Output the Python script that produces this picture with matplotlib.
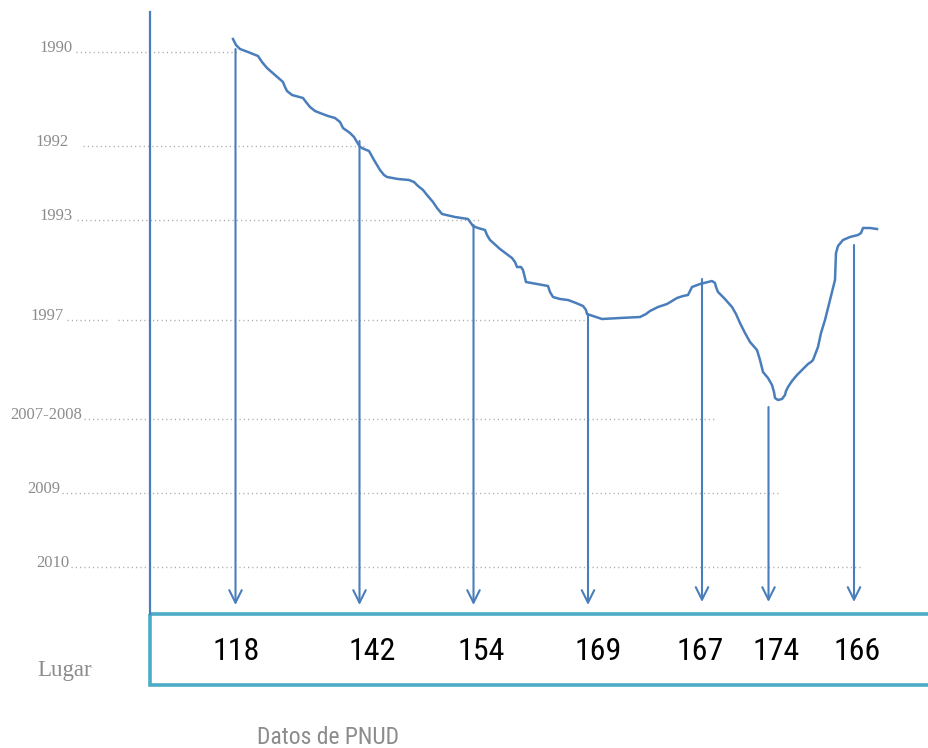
import matplotlib.pyplot as plt
from matplotlib.patches import Rectangle

# DATA #
years = ["1990", "1992", "1993", "1997", "2007-2008", "2009", "2010"]
ranks = [118, 142, 154, 169, 167, 174, 166]
row_label = "Lugar"
source = "Datos de PNUD"

# hand drawn trend curve (drawing units, y grows downward)
curve_x = [233, 236, 240, 248, 258, 262, 267, 275, 283, 285, 287, 292, 303, 306, 310,
           315, 320, 328, 335, 340, 343, 350, 354, 357, 360, 364, 369, 374, 380, 384,
           387, 398, 409, 414, 418, 423, 427, 433, 437, 442, 455, 468, 473, 478, 485,
           487, 490, 500, 512, 515, 517, 521, 523, 526, 537, 548, 550, 553, 560, 568,
           576, 583, 586, 587, 593, 602, 620, 640, 646, 650, 658, 667, 672, 677, 683,
           688, 690, 692, 700, 708, 712, 715, 716, 718, 724, 732, 736, 740, 745, 750,
           757, 760, 763, 768, 772, 774, 775, 778, 782, 785, 786, 788, 792, 797, 803,
           808, 811, 813, 818, 821, 825, 829, 833, 835, 835.5, 836, 838, 843, 850, 858,
           861, 863, 870, 877]
curve_y = [39, 45, 49, 52, 56, 62, 68, 75, 82, 87, 91, 95, 98, 102, 107,
           111, 113, 116, 118, 122, 128, 133, 137, 142, 147, 149, 151, 160, 170, 175,
           177, 179, 180, 182, 186, 190, 195, 202, 208, 214, 217, 219, 226, 228, 230,
           235, 240, 249, 258, 262, 267, 267, 270, 282, 284, 286, 292, 297, 299, 300,
           303, 306, 310, 314, 316, 319, 318, 317, 314, 311, 307, 304, 301, 298, 296,
           295, 291, 287, 284, 282, 281, 283, 287, 292, 298, 307, 314, 323, 333, 342,
           350, 360, 372, 378, 385, 392, 398, 400, 399, 395, 391, 387, 381, 375, 369,
           364, 362, 360, 347, 333, 320, 304, 288, 280, 266, 253, 246, 240, 237, 235,
           233, 228, 228, 229]

# LAYOUT #
year_y = [52, 146, 220, 320, 419, 493, 567]
year_text_end = [73, 69, 73, 64, 82, 60, 69]
dot_start = [76, 83, 77, 118, 84, 62, 71]
dot_end = [240, 366, 481, 591, 717, 778, 861]
arrow_x = [235.5, 359.5, 473.5, 588, 702, 768.5, 854]
arrow_top = [49, 141, 225, 314, 279, 407, 245]
arrow_tip = [605, 605, 605, 605, 602, 602, 602]
rank_x = [236, 372, 481, 598, 700, 776, 857]

blue = "#4A7EBB"
teal = "#4BACC6"
grey = "#8C8C8C"

fig = plt.figure(figsize=(9.29, 7.48), dpi=100)
ax = fig.add_axes([0, 0, 1, 1])
ax.set_xlim(0, 929)
ax.set_ylim(748, 0)
ax.axis("off")

# year guides
for yr, y, xe, xs, xd in zip(years, year_y, year_text_end, dot_start, dot_end):
    ax.text(xe, y, yr, ha="right", va="baseline", fontsize=12,
            family="Liberation Serif", color=grey)
    ax.plot([xs, xd], [y, y], color="#A6A6A6", lw=1.0, dashes=(0.8, 2.3))
# the short dots after 1997
ax.plot([67, 107], [320, 320], color="#A6A6A6", lw=1.0, dashes=(0.8, 2.3))

# main vertical line
ax.plot([150, 150], [12, 614], color=blue, lw=1.6)

# curve
ax.plot(curve_x, curve_y, color=blue, lw=1.8, solid_joinstyle="round")

# arrows down to the table
for x, top, tip in zip(arrow_x, arrow_top, arrow_tip):
    ax.annotate("", xy=(x, tip), xytext=(x, top),
                arrowprops=dict(arrowstyle="->,head_length=0.9,head_width=0.45",
                                color=blue, lw=1.5, shrinkA=0, shrinkB=0))

# table box
ax.add_patch(Rectangle((150, 614), 800, 71, fill=False, edgecolor=teal, lw=2.6))
for x, r in zip(rank_x, ranks):
    ax.text(x, 652, str(r), ha="center", va="center", fontsize=23,
            family=["Roboto Condensed", "Roboto"], color="black")

ax.text(92, 676, row_label, ha="right", va="baseline", fontsize=16.5,
        family="Liberation Serif", color=grey)
ax.text(328, 738, source, ha="center", va="center", fontsize=17,
        family=["Roboto Condensed", "Roboto"], color=grey)

fig.savefig("out.png", dpi=100, facecolor="white")
